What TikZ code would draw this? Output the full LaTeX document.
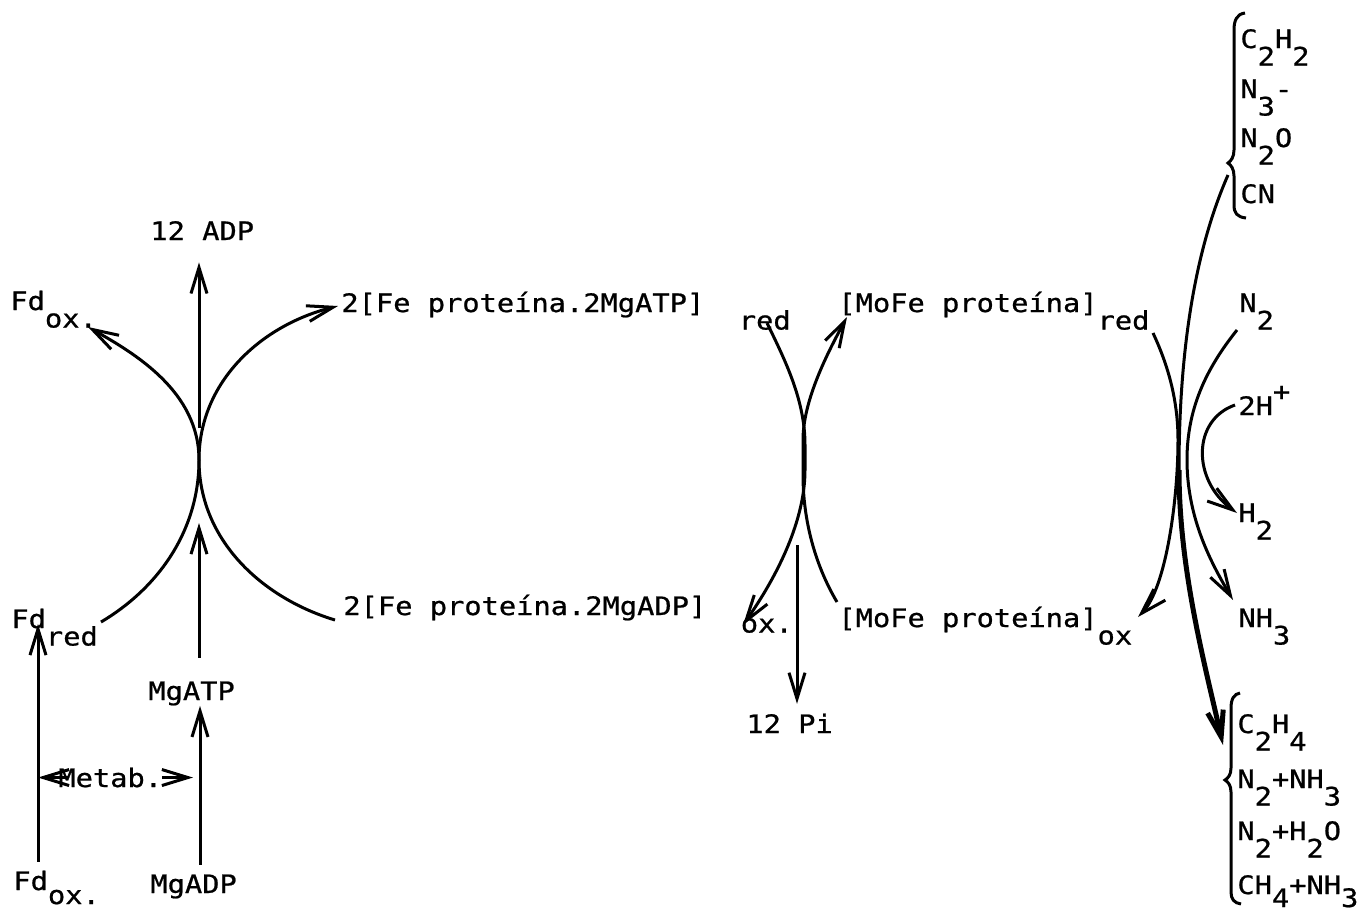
\documentclass[tikz,border=0pt]{standalone}
\usepackage{fontspec}
\newfontfamily\dmono[FakeStretch=1.13,FakeBold=0.8]{DejaVu Sans Mono}
\usetikzlibrary{arrows.meta,calc}
\newcommand{\lo}[2][8.75pt]{\raisebox{-#1}{#2}}
\begin{document}
\begin{tikzpicture}[x=0.5pt,y=-0.5pt,
  lbl/.style={inner sep=0pt, anchor=base west, font=\dmono\fontsize{12.7pt}{15pt}\selectfont},
  ln/.style={line width=1.5pt},
  arr/.style={ln, -{Straight Barb[length=13pt,width=8pt]}},
  boldarr/.style={arr, line width=2.5pt}
]
\fill[white] (0,0) rectangle (1371,911);
\useasboundingbox (0,0) rectangle (1371,911);

% ---- labels ----
\node[lbl] (adp)    at (150,240) {12 ADP};
\node[lbl] (fdoxT)  at (10,310)  {Fd\lo{ox.}};
\node[lbl] (featp)  at (341,312) {2[Fe proteína.2MgATP]~~\lo{red}};
\node[lbl] (moferT) at (838,312) {[MoFe proteína]\lo{red}};
\node[lbl] (n2)     at (1239,312) {N\lo{2}};
\node[lbl] (hplus)  at (1238,415) {2H\raisebox{7.3pt}{+}};
\node[lbl] (h2)     at (1238,522) {H\lo{2}};
\node[lbl] (nh3)    at (1238,627) {NH\lo{3}};
\node[lbl] (fdred)  at (11,628)  {Fd\lo{red}};
\node[lbl] (feadp)  at (343,615) {2[Fe proteína.2MgADP]~~\lo{ox.}};
\node[lbl] (moferB) at (838,627) {[MoFe proteína]\lo{ox}};
\node[lbl] (pi)     at (746,733) {12 Pi};
\node[lbl] (mgatp)  at (148,700) {MgATP};
\node[lbl] (mgadp)  at (150,893) {MgADP};
\node[lbl] (fdoxB)  at (13,890)  {Fd\lo[7pt]{ox.}};
\node[lbl] (metab)  at (58,787)  {Metab.};
% substrates
\node[lbl] (s1) at (1240,48)  {C\lo{2}H\lo{2}};
\node[lbl] (s2) at (1240,98)  {N\lo{3}-};
\node[lbl] (s3) at (1240,147) {N\lo{2}O};
\node[lbl] (s4) at (1240,203) {CN};
% products
\node[lbl] (p1) at (1237,733) {C\lo{2}H\lo{4}};
\node[lbl] (p2) at (1237,788) {N\lo{2}+NH\lo{3}};
\node[lbl] (p3) at (1237,840) {N\lo{2}+H\lo{2}O};
\node[lbl] (p4) at (1237,894) {CH\lo[6.5pt]{4}+NH\lo[6.5pt]{3}};

% ---- named points ----
\coordinate (c1) at (199,460);
\coordinate (fdredE) at (101,622);
\coordinate (fdoxE) at (88,327);
\coordinate (featpE) at (338,306);
\coordinate (feadpE) at (335,620);
\coordinate (fdx) at (38,780);
\coordinate (mgx) at (200,780);
\coordinate (featpR) at (767,323);
\coordinate (feadpR) at (743,625);
\coordinate (moferOx) at (837,602);
\coordinate (moferRed) at (847,317);
\coordinate (piS) at (797,545);
\coordinate (moferTR) at (1153,333);
\coordinate (moferBR) at (1138,617);
\coordinate (bTop) at (1228,175);
\coordinate (bMid) at (1179,470);
\coordinate (bBot) at (1223,745);
\coordinate (n2E) at (1237,330);
\coordinate (nh3E) at (1233,600);
\coordinate (hplusE) at (1235,405);
\coordinate (h2E) at (1237,513);

% ---- left crossing ----
\draw[arr] (fdredE) .. controls (160,587) and (199,529) .. (c1)
                    .. controls (199,392) and (136,354) .. (fdoxE);
\draw[arr] (feadpE) .. controls (262,598) and (199,540) .. (c1)
                    .. controls (199,381) and (262,325) .. (featpE);
\draw[arr, shorten <=16pt, shorten >=11pt] (c1) -- (adp.south -| c1);
\draw[arr, shorten <=11.75pt, shorten >=31.5pt] (mgatp.north -| c1) -- (c1);
\draw[arr, shorten <=4.75pt] (mgadp.north -| mgx) -- (mgatp.south -| mgx);
\draw[arr, shorten <=4.3pt, shorten >=-2pt] (fdoxB.north -| fdx) -- (fdred.base -| fdx);
\draw[arr] ($(metab.west)+(10,0)$) -- (metab.west -| fdx);
\draw[arr, shorten >=3.5pt] (metab.east) -- (metab.east -| mgx);

% ---- middle crossing ----
\draw[arr] (featpR) .. controls (785,360) and (805,400) .. (805,445) -- (805,470)
                    .. controls (805,520) and (778,575) .. (feadpR);
\draw[arr] (moferOx) .. controls (815,565) and (803,520) .. (803,475) -- (803,440)
                     .. controls (803,400) and (828,352) .. (moferRed);
\draw[arr, shorten >=4.75pt] (piS) -- (pi.north -| piS);

% ---- right crossing ----
\draw[arr] (moferTR) .. controls (1168,365) and (1178,400) .. (1178,440)
                     .. controls (1178,500) and (1166,588) .. (moferBR);
\draw[ln] (bTop) .. controls (1195,250) and (1179,350) .. (bMid);
\draw[boldarr] (bMid) .. controls (1179,570) and (1205,665) .. (bBot);
\draw[arr] (n2E) .. controls (1205,370) and (1187,410) .. (1187,460)
                 .. controls (1187,520) and (1213,566) .. (nh3E);
\draw[arr] (hplusE) .. controls (1192,420) and (1192,480) .. (h2E);

% ---- braces ----
\draw[ln] (1245,13) .. controls (1237,14) and (1234,20) .. (1234,30) -- (1234,150)
  .. controls (1234,157) and (1231,161) .. (1228,163)
  .. controls (1231,165) and (1234,169) .. (1234,176) -- (1234,205)
  .. controls (1234,213) and (1237,217) .. (1246,218);
\draw[ln] (1240,693) .. controls (1234,694) and (1231,699) .. (1231,708) -- (1231,768)
  .. controls (1231,775) and (1228,778) .. (1225,780)
  .. controls (1228,782) and (1231,785) .. (1231,792) -- (1231,892)
  .. controls (1231,899) and (1234,903) .. (1241,904);
\end{tikzpicture}
\end{document}
